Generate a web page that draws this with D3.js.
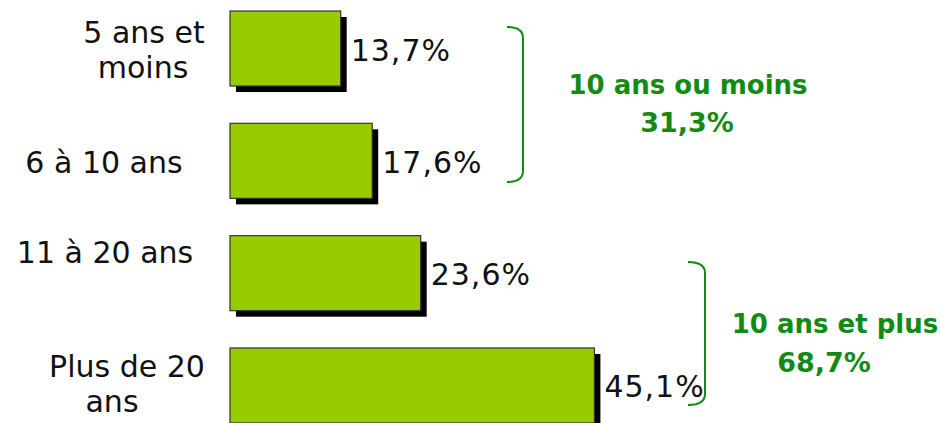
<!DOCTYPE html>
<html>
<head>
<meta charset="utf-8">
<script src="https://cdn.jsdelivr.net/npm/d3@7"></script>
<style>
  html, body { margin: 0; padding: 0; background: #ffffff; }
  svg { display: block; font-family: "DejaVu Sans", Verdana, sans-serif; }
</style>
</head>
<body>
<svg id="chart" width="941" height="423"></svg>
<script>
// ---- data ----
const categories = ["5 ans et moins", "6 à 10 ans", "11 à 20 ans", "Plus de 20 ans"];
const values = [13.7, 17.6, 23.6, 45.1];
const valueLabels = ["13,7%", "17,6%", "23,6%", "45,1%"];
const categoryLines = [["5 ans et", "moins"], ["6 à 10 ans"], ["11 à 20 ans"], ["Plus de 20", "ans"]];
const groupNames = ["10 ans ou moins", "10 ans et plus"];
const groupValues = ["31,3%", "68,7%"];
const groupMembers = [[0, 1], [2, 3]];

// ---- layout ----
const svg = d3.select("#chart");
const x = d3.scaleLinear().domain([0, 50]).range([230, 634]);
const y = d3.scaleBand().domain(categories).range([11, 423]).paddingInner(0.332).paddingOuter(0);
const barColor = "#99cc00";
const green = "#138a13";
const shadow = 6;

// shadows
svg.selectAll("rect.shadow").data(values).join("rect")
  .attr("class", "shadow")
  .attr("x", x(0) + shadow)
  .attr("y", (d, i) => y(categories[i]) + shadow)
  .attr("width", d => x(d) - x(0))
  .attr("height", y.bandwidth())
  .attr("fill", "#000");

// bars
svg.selectAll("rect.bar").data(values).join("rect")
  .attr("class", "bar")
  .attr("x", x(0))
  .attr("y", (d, i) => y(categories[i]))
  .attr("width", d => x(d) - x(0))
  .attr("height", y.bandwidth())
  .attr("fill", barColor)
  .attr("stroke", "#333")
  .attr("stroke-width", 1.2);

// value labels
svg.selectAll("text.val").data(values).join("text")
  .attr("class", "val")
  .attr("x", d => x(d) + 10)
  .attr("y", (d, i) => y(categories[i]) + y.bandwidth() / 2 + 12)
  .attr("font-size", 30)
  .attr("letter-spacing", 1)
  .attr("fill", "#111")
  .text((d, i) => valueLabels[i]);

// category labels (per-line horizontal centres and first baseline offsets)
const labelCenters = [[144, 143], [104], [105], [127, 112]];
const labelBaseOffset = [-6, 12, -10, -8];
const lineGap = 35;
categoryLines.forEach((lines, i) => {
  const yc = y(categories[i]) + y.bandwidth() / 2;
  const t = svg.append("text")
    .attr("font-size", 30)
    .attr("fill", "#111")
    .attr("text-anchor", "middle");
  lines.forEach((ln, j) => {
    t.append("tspan")
      .attr("x", labelCenters[i][j])
      .attr("y", yc + labelBaseOffset[i] + j * lineGap)
      .text(ln);
  });
});

// brackets
const bracketGeom = [
  { x0: 507, x1: 523, top: 27, bottom: 182 },
  { x0: 688, x1: 705, top: 262, bottom: 405 }
];
bracketGeom.forEach((b, gi) => {
  const r = 11;
  const p = d3.path();
  p.moveTo(b.x0, b.top);
  p.quadraticCurveTo(b.x1, b.top, b.x1, b.top + r);
  p.lineTo(b.x1, b.bottom - r);
  p.quadraticCurveTo(b.x1, b.bottom, b.x0, b.bottom);
  svg.append("path")
    .attr("d", p.toString())
    .attr("fill", "none")
    .attr("stroke", green)
    .attr("stroke-width", 2);
});

// group labels
const groupPos = [
  { c1: 688, c2: 687, b1: 94, b2: 132 },
  { c1: 835, c2: 824, b1: 333, b2: 372 }
];
groupNames.forEach((g, i) => {
  svg.append("text")
    .attr("x", groupPos[i].c1).attr("y", groupPos[i].b1)
    .attr("text-anchor", "middle")
    .attr("font-size", 26).attr("font-weight", "bold")
    .attr("fill", green)
    .text(g);
  svg.append("text")
    .attr("x", groupPos[i].c2).attr("y", groupPos[i].b2)
    .attr("text-anchor", "middle")
    .attr("font-size", 27).attr("font-weight", "bold")
    .attr("fill", green)
    .text(groupValues[i]);
});
</script>
</body>
</html>
